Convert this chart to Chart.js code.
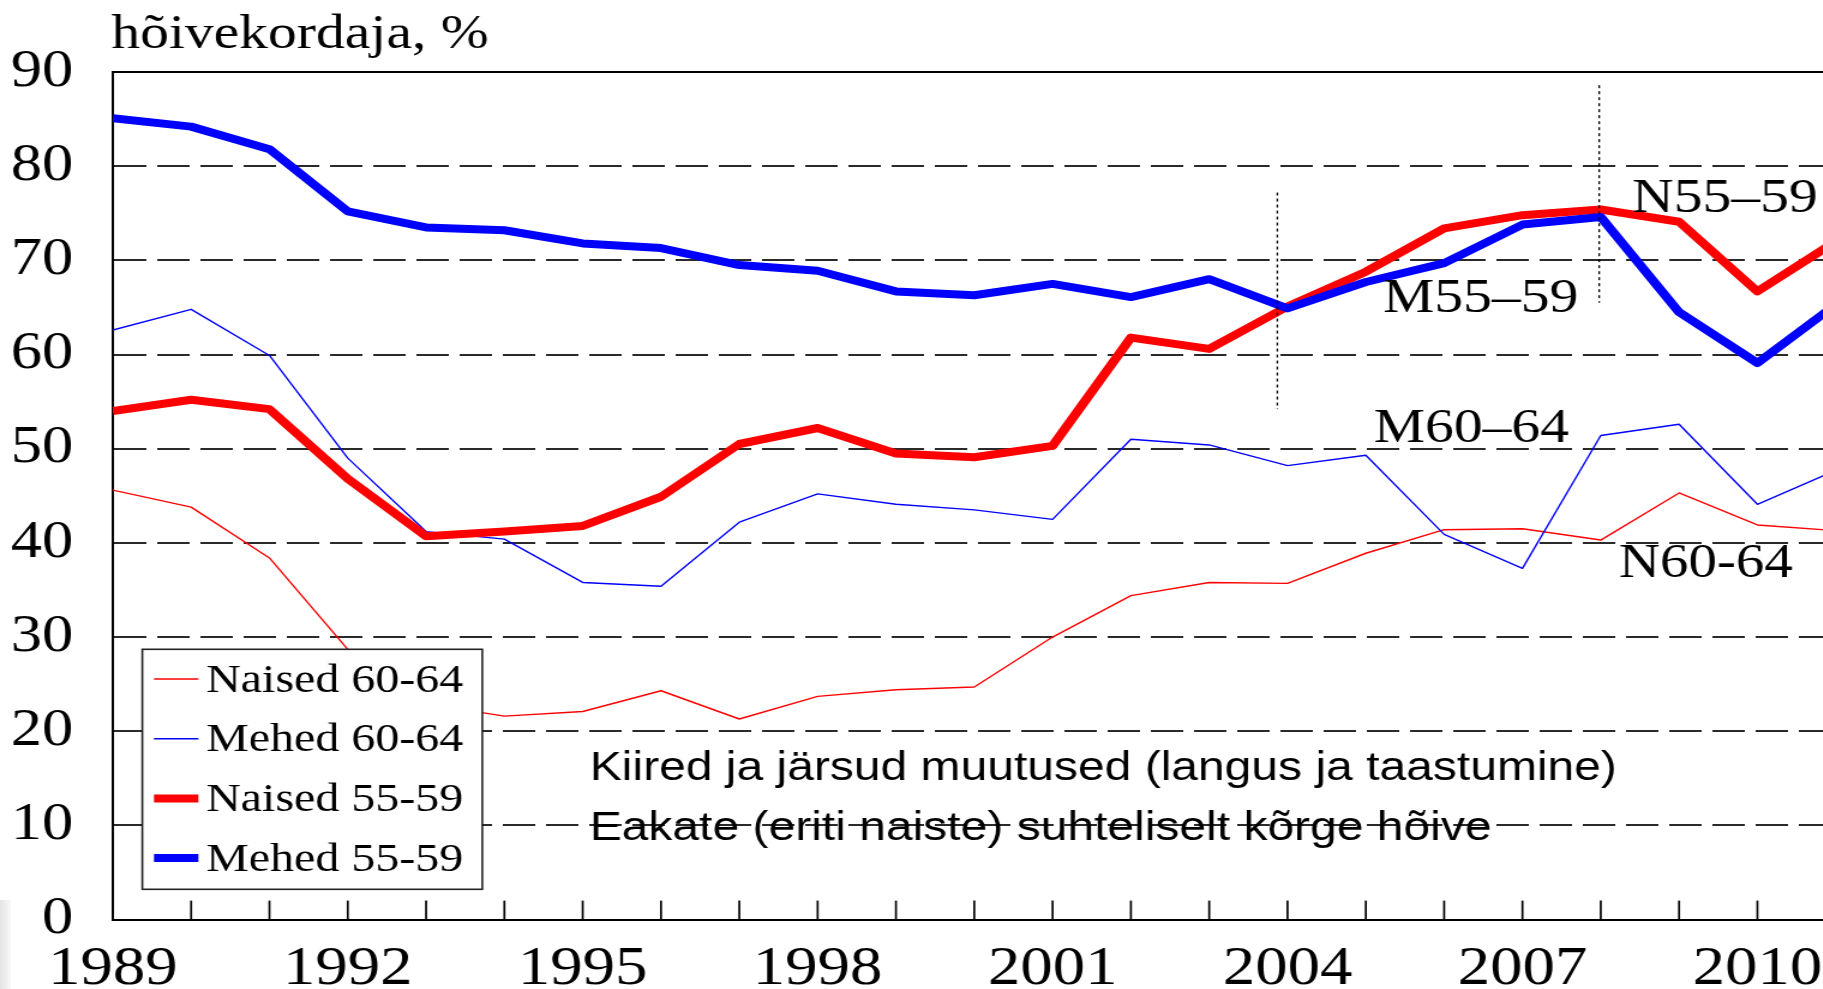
<!DOCTYPE html>
<html>
<head>
<meta charset="utf-8">
<script src="https://cdn.jsdelivr.net/npm/chart.js@4.4.0/dist/chart.umd.min.js"></script>
<style>
html,body{margin:0;padding:0;background:#fff;overflow:hidden;width:1823px;height:989px;}
#wrap{position:absolute;left:0;top:0;width:1620px;height:989px;transform:scaleX(1.2);transform-origin:0 0;}
#shade{position:absolute;left:0;top:900px;width:11px;height:89px;background:linear-gradient(to right,#e4e4e4,#f8f8f8);}
</style>
</head>
<body>
<div id="wrap"><canvas id="c" width="1620" height="989"></canvas></div>
<div id="shade"></div>
<script>
// ---- data ----
const years = [1989,1990,1991,1992,1993,1994,1995,1996,1997,1998,1999,2000,2001,2002,2003,2004,2005,2006,2007,2008,2009,2010,2011];
const naised6064 = [45.6,43.8,38.4,28.7,22.9,21.6,22.1,24.3,21.3,23.7,24.4,24.7,30.0,34.4,35.8,35.7,38.9,41.4,41.5,40.3,45.3,41.9,41.3];
const mehed6064  = [62.6,64.8,59.9,49.0,41.2,40.4,35.8,35.4,42.2,45.2,44.1,43.5,42.5,51.0,50.4,48.2,49.3,40.9,37.3,51.4,52.6,44.1,47.7];
const naised5559 = [54.0,55.2,54.2,46.8,40.7,41.2,41.8,44.9,50.5,52.2,49.5,49.1,50.3,61.8,60.6,65.1,68.8,73.4,74.8,75.4,74.1,66.7,72.0];
const mehed5559  = [85.1,84.2,81.8,75.2,73.5,73.2,71.8,71.3,69.5,68.9,66.7,66.3,67.5,66.1,68.0,64.9,67.7,69.7,73.8,74.6,64.5,59.1,65.3];
const seriesNames = ['Naised 60-64','Mehed 60-64','Naised 55-59','Mehed 55-59'];
const xTickLabels = [1989,1992,1995,1998,2001,2004,2007,2010];
const yTickValues = [0,10,20,30,40,50,60,70,80,90];
const lineLabels = ['N55–59','M55–59','M60–64','N60-64'];
const titleText = 'hõivekordaja, %';
const noteLines = ['Kiired ja järsud muutused (langus ja taastumine)','Eakate (eriti naiste) suhteliselt kõrge hõive'];

// ---- layout / style (positions in data units) ----
const layoutCfg = {
  title: {x: 1988.98, y: 92.52, size: 48},
  lineLabels: [
    {x: 2008.40, y: 75.17, size: 48},
    {x: 2005.22, y: 64.55, size: 48},
    {x: 2005.10, y: 50.75, size: 48},
    {x: 2008.23, y: 36.41, size: 47.5}
  ],
  notes: [{x: 1995.09, y: 14.82}, {x: 1995.09, y: 8.45}],
  noteSize: 40,
  markers: [{x: 2003.87, from: 54.2, to: 77.2}, {x: 2007.98, from: 65.5, to: 88.6}],
  legend: {dx: 24.6, fromBottom: 270.3, w: 283.3, h: 240, sx0: 9.7, sx1: 46.7, tx: 53.1, ly: 29.7, ty: 42.4, step: 59.7, size: 40}
};
const colors = ['#ff0000','#0000ff','#ff0000','#0000ff'];
const widths = [1.4,1.4,8,8];
const SERIF = '"Liberation Serif","Times New Roman",serif';
const SANS = '"Liberation Sans",Arial,sans-serif';

const allVals = [naised6064, mehed6064, naised5559, mehed5559];
const mk = vals => years.map((x,i)=>({x:x, y:vals[i]}));

const overlay = {
  id: 'overlay',
  afterDraw(chart) {
    const ctx = chart.ctx, xs = chart.scales.x, ys = chart.scales.y, ca = chart.chartArea;
    ctx.save();
    // top frame
    ctx.strokeStyle = '#000'; ctx.lineWidth = 2; ctx.setLineDash([]);
    ctx.beginPath(); ctx.moveTo(ca.left, ca.top); ctx.lineTo(ca.right, ca.top); ctx.stroke();
    // inner x ticks
    ctx.lineWidth = 1.7;
    xs.ticks.forEach(t => {
      const px = xs.getPixelForValue(t.value);
      ctx.beginPath(); ctx.moveTo(px, ca.bottom); ctx.lineTo(px, ca.bottom - 19); ctx.stroke();
    });
    // dotted markers
    ctx.lineWidth = 1.3; ctx.setLineDash([3,3]);
    layoutCfg.markers.forEach(m => {
      const px = xs.getPixelForValue(m.x);
      ctx.beginPath(); ctx.moveTo(px, ys.getPixelForValue(m.to)); ctx.lineTo(px, ys.getPixelForValue(m.from)); ctx.stroke();
    });
    ctx.setLineDash([]);
    ctx.fillStyle = '#000'; ctx.textAlign = 'left'; ctx.textBaseline = 'alphabetic';
    // title
    ctx.font = layoutCfg.title.size + 'px ' + SERIF;
    ctx.fillText(titleText, xs.getPixelForValue(layoutCfg.title.x), ys.getPixelForValue(layoutCfg.title.y));
    // line labels
    lineLabels.forEach((s,i) => {
      const c = layoutCfg.lineLabels[i];
      ctx.font = c.size + 'px ' + SERIF;
      ctx.fillText(s, xs.getPixelForValue(c.x), ys.getPixelForValue(c.y));
    });
    // notes
    ctx.font = layoutCfg.noteSize + 'px ' + SANS;
    noteLines.forEach((s,i) => {
      const c = layoutCfg.notes[i];
      ctx.fillText(s, xs.getPixelForValue(c.x), ys.getPixelForValue(c.y));
    });
    // legend
    const L = layoutCfg.legend;
    const bx = ca.left + L.dx, by = ca.bottom - L.fromBottom;
    ctx.fillStyle = '#fff'; ctx.fillRect(bx, by, L.w, L.h);
    ctx.strokeStyle = '#222'; ctx.lineWidth = 1.6; ctx.strokeRect(bx, by, L.w, L.h);
    chart.data.datasets.forEach((ds,i) => {
      const ly = by + L.ly + i*L.step;
      ctx.strokeStyle = ds.borderColor; ctx.lineWidth = ds.borderWidth;
      ctx.lineCap = 'butt';
      ctx.beginPath(); ctx.moveTo(bx + L.sx0, ly); ctx.lineTo(bx + L.sx1, ly); ctx.stroke();
      ctx.fillStyle = '#000'; ctx.font = L.size + 'px ' + SERIF;
      ctx.fillText(ds.label, bx + L.tx, by + L.ty + i*L.step);
    });
    ctx.restore();
  }
};

new Chart(document.getElementById('c'), {
  type: 'line',
  data: {
    datasets: seriesNames.map((name,i) => ({
      label: name,
      data: mk(allVals[i]),
      borderColor: colors[i],
      backgroundColor: colors[i],
      borderWidth: widths[i],
      pointRadius: 0,
      tension: 0,
      fill: false,
      borderJoinStyle: 'round',
      order: 3 - i
    }))
  },
  options: {
    responsive: false,
    animation: false,
    devicePixelRatio: 1,
    layout: {padding: {top: 72, right: 25, left: 0, bottom: 0}},
    plugins: {legend: {display: false}, tooltip: {enabled: false}},
    scales: {
      x: {
        type: 'linear', min: 1989, max: 2012,
        afterBuildTicks: s => { s.ticks = years.concat([2012]).map(v => ({value: v})); },
        ticks: {
          autoSkip: false, maxRotation: 0, minRotation: 0, padding: 18, color: '#000',
          font: {family: SERIF, size: 54},
          callback: v => xTickLabels.includes(v) ? String(v) : ''
        },
        grid: {display: false, drawTicks: false},
        border: {display: true, color: '#000', width: 2},
        afterFit: s => { s.height = 69.4; }
      },
      y: {
        min: 0, max: 90,
        afterBuildTicks: s => { s.ticks = yTickValues.map(v => ({value: v})); },
        ticks: {padding: 33, color: '#000', font: {family: SERIF, size: 52}, callback: v => String(v)},
        grid: {
          drawTicks: false, lineWidth: 2,
          color: c => (c.tick && (c.tick.value === 0 || c.tick.value === 90)) ? 'rgba(0,0,0,0)' : '#2a2a2a'
        },
        border: {display: true, color: '#000', width: 2, dash: [27, 9]},
        afterFit: s => { s.width = 94; }
      }
    }
  },
  plugins: [overlay]
});
</script>
</body>
</html>
